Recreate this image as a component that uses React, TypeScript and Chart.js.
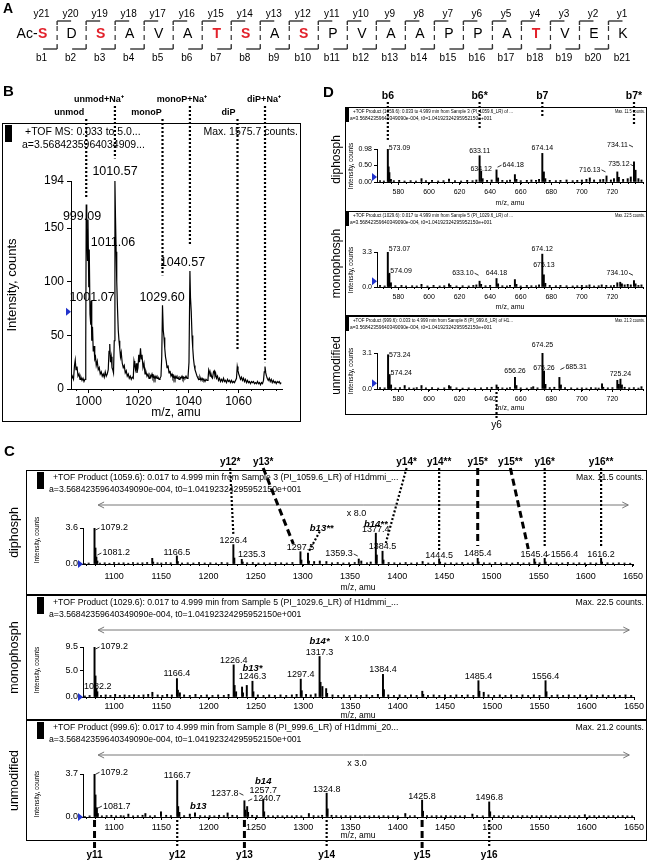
import React, { useEffect, useRef } from "react";
import { Chart, registerables } from "chart.js";

Chart.register(...registerables);

const SANS = "'Liberation Sans', Arial, Helvetica, sans-serif";
const NARROW = "'Liberation Sans Narrow', 'Liberation Sans', Arial, sans-serif";
const RED = "#e2212b";
const BLUE = "#2233cc";

/* ---------------- Panel A : peptide ---------------- */
const SEQ = ["S","D","S","A","V","A","T","S","A","S","P","V","A","A","P","P","A","T","V","E","K"];
const SEQ_PHOS = [1,0,1,0,0,0,1,1,0,1,0,0,0,0,0,0,0,1,0,0,0];
const Y_IONS = ["y21","y20","y19","y18","y17","y16","y15","y14","y13","y12","y11","y10","y9","y8","y7","y6","y5","y4","y3","y2","y1"];
const B_IONS = ["b1","b2","b3","b4","b5","b6","b7","b8","b9","b10","b11","b12","b13","b14","b15","b16","b17","b18","b19","b20","b21"];

/* ---------------- Panel B : MS survey ---------------- */
const B_TRACE: [number, number][] = [
[993.0,8],[993.5,12],[994.0,9],[994.4,22],[994.7,27],[995.0,18],[995.4,21],[995.8,12],[996.2,14],[996.6,9],[997.0,11],[997.4,8],[997.8,10],[998.2,7],[998.6,9],[998.9,40],[999.09,172],[999.3,150],[999.6,120],[999.8,158],[1000.1,95],[1000.3,130],[1000.6,70],[1000.9,60],[1001.07,82],[1001.3,45],[1001.6,58],[1001.9,35],[1002.2,40],[1002.5,28],[1002.8,30],[1003.1,22],[1003.5,26],[1003.9,18],[1004.3,20],[1004.7,14],[1005.1,16],[1005.5,12],[1005.9,14],[1006.3,11],[1006.7,16],[1007.1,12],[1007.5,14],[1007.9,18],[1008.2,35],[1008.5,42],[1008.8,25],[1009.1,30],[1009.4,20],[1009.7,18],[1010.0,15],[1010.3,45],[1010.57,194],[1010.8,160],[1011.06,128],[1011.3,100],[1011.6,75],[1011.9,55],[1012.2,45],[1012.5,38],[1012.8,30],[1013.1,34],[1013.5,24],[1013.9,20],[1014.3,22],[1014.7,15],[1015.1,17],[1015.5,12],[1015.9,14],[1016.3,10],[1016.7,12],[1017.1,9],[1017.5,11],[1017.9,10],[1018.2,26],[1018.5,22],[1018.8,18],[1019.1,24],[1019.4,15],[1019.8,20],[1020.1,32],[1020.4,25],[1020.8,38],[1021.1,28],[1021.4,32],[1021.8,20],[1022.2,24],[1022.6,14],[1023.0,16],[1023.4,12],[1023.8,14],[1024.2,10],[1024.6,13],[1025.0,11],[1025.4,14],[1025.8,10],[1026.2,12],[1026.6,9],[1027.0,12],[1027.4,10],[1027.8,11],[1028.2,9],[1028.6,10],[1029.0,12],[1029.3,30],[1029.6,78],[1029.9,55],[1030.2,48],[1030.5,38],[1030.8,30],[1031.1,26],[1031.4,20],[1031.8,22],[1032.2,15],[1032.6,17],[1033.0,12],[1033.4,14],[1033.8,10],[1034.2,12],[1034.6,9],[1035.0,12],[1035.4,10],[1035.8,11],[1036.2,9],[1036.6,11],[1037.0,10],[1037.4,12],[1037.8,9],[1038.2,11],[1038.6,10],[1039.0,12],[1039.4,10],[1039.8,11],[1040.2,25],[1040.57,110],[1040.8,85],[1041.1,72],[1041.4,50],[1041.7,38],[1042.0,28],[1042.3,22],[1042.6,18],[1043.0,15],[1043.4,12],[1043.8,10],[1044.2,9],[1044.6,11],[1045.0,8],[1045.4,10],[1045.8,8],[1046.2,9],[1046.6,7],[1047.0,9],[1047.4,8],[1047.8,9],[1048.1,18],[1048.4,16],[1048.7,12],[1049.0,14],[1049.3,11],[1049.6,10],[1050.0,16],[1050.3,17],[1050.6,12],[1050.9,14],[1051.2,10],[1051.6,12],[1052.0,8],[1052.4,10],[1052.8,7],[1053.2,9],[1053.6,7],[1054.0,10],[1054.4,7],[1054.8,8],[1055.2,6],[1055.6,9],[1056.0,7],[1056.4,8],[1056.8,6],[1057.2,8],[1057.6,6],[1058.0,7],[1058.4,6],[1058.8,8],[1059.2,10],[1059.5,21],[1059.8,17],[1060.1,14],[1060.4,12],[1060.8,9],[1061.2,11],[1061.6,8],[1062.0,10],[1062.4,7],[1062.8,9],[1063.2,6],[1063.6,8],[1064.0,6],[1064.4,7],[1064.8,5],[1065.2,7],[1065.6,6],[1066.0,7],[1066.4,5],[1066.8,6],[1067.2,5],[1067.6,7],[1068.0,5],[1068.4,6],[1068.8,4],[1069.2,6],[1069.6,5],[1070.0,8],[1070.3,16],[1070.6,21],[1070.9,15],[1071.2,12],[1071.5,10],[1071.9,8],[1072.3,10],[1072.7,7],[1073.1,9],[1073.5,6],[1073.9,8],[1074.3,6],[1074.7,7],[1075.1,5],[1075.5,7],[1075.9,6],[1076.3,7],[1076.7,5],[1077.1,6]
];
const B_XMIN = 993;
const B_XMAX = 1077.4;
const B_XTICKS = [1000, 1020, 1040, 1060];
const B_XMINOR = 5;
const B_YTICKS = [0, 50, 100, 150, 194];
const B_YLABELS = ["0", "50", "100", "150", "194"];
const B_PEAK_LABELS: [string, number, number][] = [
  ["1010.57", 1010.6, 203], ["999.09", 997.4, 161], ["1011.06", 1009.8, 137],
  ["1040.57", 1037.6, 118], ["1001.07", 1001.4, 85], ["1029.60", 1029.4, 85],
];
const B_ION_TEXT = ["unmod", "unmod+Na\u207A", "monoP", "monoP+Na\u207A", "diP", "diP+Na\u207A"];
const B_ION_MZ = [999.09, 1010.57, 1029.6, 1040.57, 1059.6, 1070.6];
const B_ION_END = [178, 215, 106, 134, 36, 25];
const B_ION_ROW = [1, 0, 1, 0, 1, 0];
const B_ION_DX = [-17, -16, -16, -8, -9, -1];

/* ---------------- Panel D : low-mass MS/MS ---------------- */
const D_XMIN = 566;
const D_XMAX = 740;
const D_XTICKS = [580, 600, 620, 640, 660, 680, 700, 720];
const D_XMINOR = 5;
const D1_PEAKS: [number, number][] = [
[568,0.04],[570.5,0.03],[573.09,0.98],[573.6,0.45],[574.1,0.28],[575.1,0.08],[577,0.04],[580.5,0.05],[584,0.03],[588,0.04],[591.5,0.03],[595.1,0.1],[598,0.04],[602,0.05],[606,0.03],[609.5,0.04],[613.1,0.09],[617,0.04],[621,0.03],[625,0.05],[628.5,0.04],[631,0.06],[633.11,0.78],[634.12,0.32],[635.1,0.1],[638,0.05],[641,0.06],[644.18,0.36],[645.2,0.12],[648,0.05],[651,0.04],[653,0.06],[656.2,0.22],[657.2,0.08],[660,0.04],[664,0.05],[667,0.06],[670,0.05],[672,0.08],[674.14,0.85],[675.15,0.3],[676.1,0.1],[679,0.05],[683,0.04],[686,0.05],[690,0.06],[694,0.04],[697,0.05],[700,0.06],[703,0.08],[705.2,0.12],[708,0.06],[712,0.07],[714,0.08],[716.13,0.18],[719,0.06],[721,0.1],[723.2,0.3],[724.2,0.14],[727,0.08],[730,0.1],[732,0.15],[734.11,0.6],[735.12,0.35],[737,0.1],[739,0.06]
];
const D1_LABELS: [string, number, number, string][] = [
  ["573.09", 573.09, 1.0, "R"], ["633.11", 633.11, 0.93, "c"], ["634.12", 634.12, 0.38, "c"],
  ["644.18", 644.18, 0.5, "r"], ["674.14", 674.14, 1.0, "c"], ["716.13", 716.13, 0.36, "L"],
  ["734.11", 734.11, 1.1, "L"], ["735.12", 735.12, 0.52, "L"],
];
const D1_YTICKS = [0, 0.5, 0.98];
const D1_YLABELS = ["0.00", "0.50", "0.98"];
const D2_PEAKS: [number, number][] = [
[568,0.15],[571,0.1],[573.07,3.3],[573.6,1.2],[574.09,1.3],[575.1,0.4],[578,0.12],[582,0.15],[585,0.1],[589,0.12],[592,0.1],[595.1,0.25],[599,0.1],[603,0.15],[607,0.1],[610,0.12],[613.1,0.3],[614,0.15],[618,0.1],[622,0.12],[626,0.1],[629,0.15],[631,0.2],[633.1,0.55],[634.1,0.25],[637,0.12],[640,0.15],[644.18,0.8],[645.2,0.3],[648,0.12],[651,0.1],[653,0.15],[656.2,0.7],[657.2,0.25],[660,0.1],[664,0.15],[667,0.12],[670,0.1],[672,0.2],[674.12,3.1],[675.13,1.15],[676.1,0.35],[679,0.15],[683,0.12],[686,0.15],[690,0.12],[694,0.1],[697,0.12],[700,0.15],[703,0.12],[705,0.2],[708,0.1],[711,0.12],[713,0.2],[716,0.15],[719,0.12],[721,0.15],[723.2,0.4],[725.1,0.45],[726.2,0.3],[728,0.2],[730,0.25],[732,0.2],[734.1,0.6],[735.1,0.3],[737,0.15],[739,0.2]
];
const D2_LABELS: [string, number, number, string][] = [
  ["573.07", 573.07, 3.55, "R"], ["574.09", 574.09, 1.5, "R"], ["633.10", 633.1, 1.3, "L"],
  ["644.18", 644.18, 1.35, "c"], ["674.12", 674.12, 3.55, "c"], ["675.13", 675.13, 2.05, "c"],
  ["734.10", 734.1, 1.3, "L"],
];
const D2_YTICKS = [0, 3.3];
const D2_YLABELS = ["0.0", "3.3"];
const D3_PEAKS: [number, number][] = [
[568,0.12],[571,0.1],[573.24,2.95],[573.7,1.1],[574.24,1.25],[575.2,0.35],[578,0.1],[581,0.12],[584.1,0.3],[587,0.1],[590,0.08],[592,0.12],[595.1,0.3],[598,0.1],[602,0.12],[606,0.08],[610,0.1],[613.1,0.3],[614.1,0.2],[618,0.1],[622,0.08],[626,0.1],[630,0.08],[634,0.1],[638,0.12],[641,0.15],[644.2,0.35],[645.2,0.15],[648,0.1],[651,0.08],[653,0.12],[656.26,1.0],[657.2,0.3],[660,0.1],[664,0.08],[667,0.12],[668.2,0.2],[671,0.1],[674.25,3.1],[675.26,1.55],[676.2,0.4],[679,0.12],[682,0.15],[685.31,1.0],[686.3,0.35],[689,0.12],[693,0.1],[697,0.08],[700,0.1],[703,0.08],[706,0.12],[709,0.1],[711,0.08],[713.2,0.45],[714,0.15],[717,0.1],[720,0.12],[723.2,0.75],[724.2,0.4],[725.24,0.85],[726.2,0.35],[728,0.15],[731,0.1],[734,0.12],[737,0.08],[739,0.2]
];
const D3_LABELS: [string, number, number, string][] = [
  ["573.24", 573.24, 2.9, "R"], ["574.24", 574.24, 1.4, "R"], ["656.26", 656.26, 1.55, "c"],
  ["674.25", 674.25, 3.75, "c"], ["675.26", 675.26, 1.8, "c"], ["685.31", 685.31, 1.85, "r"],
  ["725.24", 725.24, 1.25, "c"],
];
const D3_YTICKS = [0, 3.1];
const D3_YLABELS = ["0.0", "3.1"];
const D_ION_TEXT = ["b6", "b6*", "b7", "b7*"];
const D_ION_MZ = [573.09, 633.11, 674.14, 734.11];
const D_ION_END = [1.25, 1.6, 1.9, 1.7];

/* ---------------- Panel C : high-mass MS/MS ---------------- */
const C_XMIN = 1067;
const C_XMAX = 1650;
const C_XTICKS = [1100, 1150, 1200, 1250, 1300, 1350, 1400, 1450, 1500, 1550, 1600, 1650];
const C_XMINOR = 10;
const C1_PEAKS: [number, number][] = [
[1069,0.05],[1073,0.1],[1079.2,3.6],[1080.2,1.6],[1081.2,0.7],[1082.2,0.3],[1085,0.1],[1090,0.12],[1095,0.08],[1100,0.15],[1105,0.1],[1110,0.12],[1115,0.08],[1120,0.15],[1125,0.1],[1130,0.12],[1135,0.15],[1140.4,0.57],[1141.4,0.2],[1146,0.12],[1150,0.1],[1155,0.15],[1160,0.12],[1166.5,0.8],[1167.5,0.25],[1172,0.1],[1178,0.12],[1184,0.1],[1190,0.15],[1196,0.1],[1202,0.12],[1208,0.1],[1214,0.15],[1220,0.12],[1226.4,1.94],[1227.4,0.6],[1235.3,0.47],[1236.3,0.2],[1241,0.12],[1247,0.15],[1253,0.1],[1259,0.12],[1265,0.1],[1271,0.15],[1277,0.12],[1283,0.1],[1289,0.15],[1297.5,1.23],[1298.5,0.4],[1305.5,1.1],[1306.5,0.3],[1312,0.25],[1318,0.3],[1325,0.25],[1331,0.12],[1337,0.15],[1343,0.1],[1349,0.12],[1355,0.15],[1359.3,0.5],[1362,0.3],[1368,0.12],[1372,0.2],[1377.4,3.08],[1378.4,0.9],[1384.5,1.28],[1385.5,0.4],[1391,0.15],[1397,0.12],[1403,0.1],[1409,0.15],[1415,0.1],[1421,0.12],[1427,0.25],[1433,0.1],[1439,0.12],[1444.5,0.52],[1445.5,0.2],[1451,0.1],[1457,0.12],[1463,0.1],[1469,0.15],[1475,0.1],[1480,0.12],[1485.4,0.57],[1486.4,0.2],[1492,0.12],[1498,0.1],[1504,0.15],[1510,0.1],[1516,0.12],[1522,0.1],[1528,0.15],[1534,0.1],[1540,0.12],[1545.4,0.52],[1546.4,0.2],[1551,0.12],[1556.4,0.57],[1557.4,0.2],[1563,0.1],[1569,0.12],[1575,0.1],[1581,0.15],[1587,0.1],[1593,0.12],[1599,0.1],[1605,0.12],[1611,0.1],[1616.2,0.57],[1617.2,0.2],[1623,0.12],[1629,0.1],[1635,0.12],[1641,0.1],[1647,0.08]
];
const C1_LABELS: [string, number, number, string][] = [
  ["1079.2", 1079.2, 3.6, "r"], ["1081.2", 1081.2, 1.1, "r"], ["1166.5", 1166.5, 1.15, "c"],
  ["1226.4", 1226.4, 2.35, "c"], ["1235.3", 1246, 0.9, "c"], ["1297.5", 1297.5, 1.65, "c"],
  ["1359.3", 1359.3, 1.0, "L"], ["1377.4", 1377.4, 3.4, "c"], ["1384.5", 1384.5, 1.7, "c"],
  ["1444.5", 1444.5, 0.85, "c"], ["1485.4", 1485.4, 1.0, "c"], ["1545.4", 1545.4, 0.95, "c"],
  ["1556.4", 1556.4, 0.95, "r"], ["1616.2", 1616.2, 0.95, "c"],
];
const C1_ITALIC: [string, number, number][] = [["b13**", 1320, 3.6], ["b14**", 1377.4, 4.0]];
const C1_YTICKS = [0, 3.6];
const C1_YLABELS = ["0.0", "3.6"];
const C2_PEAKS: [number, number][] = [
[1069,0.2],[1074,0.3],[1079.2,9.5],[1080.2,4.0],[1081.2,1.6],[1082.2,1.0],[1086,0.3],[1091,0.4],[1096,0.3],[1101,0.5],[1106,0.3],[1111,0.4],[1116,0.3],[1121,0.4],[1126,0.3],[1131,0.4],[1136,0.5],[1140.4,0.9],[1146,0.4],[1151,0.3],[1156,0.5],[1161,0.4],[1166.4,3.5],[1167.4,1.3],[1169.5,0.8],[1174,0.4],[1180,0.3],[1186,0.5],[1192,0.3],[1198,0.4],[1204,0.3],[1210,0.4],[1216,0.3],[1221,0.5],[1226.4,6.1],[1227.4,2.2],[1229,1.0],[1235.3,1.9],[1236.3,0.8],[1240.3,2.2],[1246.3,3.0],[1247.3,1.0],[1252,0.4],[1258,0.3],[1264,0.4],[1270,0.3],[1276,0.4],[1282,0.3],[1288,0.4],[1293,0.5],[1297.4,3.4],[1298.4,1.2],[1303,0.5],[1308,0.4],[1313,0.6],[1317.3,7.7],[1318.3,2.8],[1320.3,2.0],[1324.3,1.6],[1325.3,0.7],[1331,0.4],[1337,0.3],[1343,0.4],[1349,0.3],[1355,0.4],[1361,0.3],[1367,0.4],[1373,0.3],[1379,0.5],[1384.4,4.3],[1385.4,1.4],[1390,0.4],[1396,0.3],[1402,0.4],[1408,0.3],[1414,0.4],[1420,0.3],[1426,1.1],[1427,0.5],[1432,0.3],[1438,0.4],[1444,0.3],[1450,0.4],[1456,0.3],[1462,0.4],[1468,0.3],[1474,0.4],[1480,0.3],[1485.4,3.1],[1486.4,1.1],[1491,0.9],[1496,0.4],[1502,0.3],[1508,0.4],[1514,0.3],[1520,0.4],[1526,0.3],[1532,0.4],[1538,0.3],[1544,0.4],[1550,0.3],[1556.4,3.1],[1557.4,1.0],[1563,0.3],[1569,0.4],[1575,0.3],[1581,0.4],[1587,0.3],[1593,0.4],[1599,0.3],[1605,0.4],[1611,0.3],[1617,0.4],[1623,0.3],[1629,0.4],[1635,0.3],[1641,0.4],[1647,0.3]
];
const C2_LABELS: [string, number, number, string][] = [
  ["1079.2", 1079.2, 9.5, "r"], ["1082.2", 1082.5, 1.9, "c"], ["1166.4", 1166.4, 4.4, "c"],
  ["1226.4", 1226.4, 6.9, "c"], ["1246.3", 1246.3, 3.85, "c"], ["1297.4", 1297.4, 4.35, "c"],
  ["1317.3", 1317.3, 8.5, "c"], ["1384.4", 1384.4, 5.2, "c"], ["1485.4", 1485.4, 3.9, "c"],
  ["1556.4", 1556.4, 3.9, "c"],
];
const C2_ITALIC: [string, number, number][] = [["b13*", 1246.3, 5.5], ["b14*", 1317.3, 10.6]];
const C2_YTICKS = [0, 5, 9.5];
const C2_YLABELS = ["0.0", "5.0", "9.5"];
const C3_PEAKS: [number, number][] = [
[1069,0.05],[1074,0.1],[1079.2,3.7],[1080.2,1.9],[1081.7,0.8],[1082.7,0.3],[1087,0.1],[1092,0.12],[1097,0.15],[1102,0.1],[1107,0.12],[1110,0.1],[1115,0.25],[1120,0.1],[1125,0.12],[1130,0.15],[1133,0.3],[1138,0.1],[1143,0.12],[1149.5,0.45],[1155,0.15],[1160,0.12],[1166.7,3.15],[1167.7,0.9],[1169,0.4],[1174,0.12],[1180,0.25],[1185.5,0.35],[1191,0.12],[1196,0.1],[1201,0.12],[1206,0.1],[1211,0.15],[1216,0.12],[1220,0.35],[1225,0.15],[1230,0.12],[1237.8,1.4],[1238.8,0.6],[1240.7,0.9],[1241.7,0.4],[1246,0.15],[1251,0.12],[1257.7,1.55],[1258.7,0.45],[1263,0.12],[1268,0.1],[1273,0.12],[1278,0.1],[1283,0.12],[1288,0.1],[1293,0.12],[1298,0.1],[1306,0.3],[1311,0.12],[1316,0.1],[1320,0.15],[1324.8,2.05],[1325.8,0.7],[1330,0.15],[1335,0.12],[1340,0.1],[1345,0.12],[1350,0.1],[1355,0.12],[1360,0.1],[1365,0.12],[1370,0.1],[1375,0.12],[1380,0.1],[1385,0.12],[1390,0.1],[1395,0.12],[1400,0.1],[1408,0.3],[1413,0.1],[1418,0.12],[1425.8,1.45],[1426.8,0.5],[1431,0.12],[1436,0.1],[1441,0.12],[1446,0.1],[1451,0.12],[1456,0.1],[1461,0.12],[1466,0.1],[1471,0.12],[1479,0.25],[1484,0.12],[1490,0.1],[1496.8,1.3],[1497.8,0.45],[1502,0.12],[1507,0.1],[1512,0.12],[1517,0.1],[1522,0.12],[1527,0.1],[1532,0.12],[1537,0.1],[1542,0.12],[1547,0.1],[1552,0.12],[1557,0.1],[1562,0.12],[1567,0.1],[1572,0.12],[1577,0.1],[1582,0.12],[1587,0.1],[1592,0.12],[1598,0.2],[1603,0.1],[1608,0.12],[1613,0.1],[1618,0.12],[1623,0.1],[1628,0.12],[1633,0.1],[1638,0.12],[1643,0.1],[1648,0.1]
];
const C3_LABELS: [string, number, number, string][] = [
  ["1079.2", 1079.2, 3.85, "r"], ["1081.7", 1081.7, 0.94, "r"], ["1166.7", 1166.7, 3.6, "c"],
  ["1237.8", 1237.8, 2.05, "L"], ["1240.7", 1240.7, 1.56, "r"], ["1257.7", 1257.7, 2.29, "c"],
  ["1324.8", 1324.8, 2.4, "c"], ["1425.8", 1425.8, 1.8, "c"], ["1496.8", 1496.8, 1.7, "c"],
];
const C3_ITALIC: [string, number, number][] = [["b13", 1189, 0.94], ["b14", 1257.7, 3.1]];
const C3_YTICKS = [0, 3.7];
const C3_YLABELS = ["0.0", "3.7"];
const C_ION_TEXT = ["y12*", "y13*", "y14*", "y14**", "y15*", "y15**", "y16*", "y16**"];
const C_ION_TOP = [1223, 1258, 1410, 1444.5, 1485.4, 1520, 1556.4, 1616.2];
const C_ION_END_MZ = [1226.4, 1290, 1388, 1444.5, 1485.4, 1539, 1556.4, 1616.2];
const C_ION_END_V = [2.9, 2.0, 2.1, 1.35, 1.8, 1.5, 1.6, 1.7];
const C_ION_DASHED = [0, 1, 0, 0, 1, 1, 0, 0];
const C_BOT_TEXT = ["y11", "y12", "y13", "y14", "y15", "y16"];
const C_BOT_MZ = [1079.2, 1166.7, 1237.8, 1324.8, 1425.8, 1496.8];
const C_BOT_DASHED = [1, 0, 1, 0, 1, 0];

const CAL = "a=3.56842359640349090e-004, t0=1.04192324295952150e+001";

/* ---------------- drawing helpers ---------------- */
type Ctx = CanvasRenderingContext2D;
type Fn = (v: number) => number;
type Frame = { left: number; top: number; width: number; height: number };
type Area = { left: number; top: number; right: number; bottom: number };

function tx(ctx: Ctx, s: string, x: number, y: number, font: string, align: CanvasTextAlign = "left", color = "#000", maxW?: number) {
  ctx.font = font;
  ctx.fillStyle = color;
  ctx.textAlign = align;
  ctx.textBaseline = "middle";
  if (maxW) ctx.fillText(s, x, y, maxW);
  else ctx.fillText(s, x, y);
}
function rot(ctx: Ctx, s: string, x: number, y: number, font: string) {
  ctx.save();
  ctx.translate(x, y);
  ctx.rotate(-Math.PI / 2);
  tx(ctx, s, 0, 0, font, "center");
  ctx.restore();
}
function ln(ctx: Ctx, x1: number, y1: number, x2: number, y2: number, w = 1, dash: number[] = [], color = "#000") {
  ctx.save();
  ctx.strokeStyle = color;
  ctx.lineWidth = w;
  ctx.setLineDash(dash);
  ctx.beginPath();
  ctx.moveTo(x1, y1);
  ctx.lineTo(x2, y2);
  ctx.stroke();
  ctx.restore();
}
function ionLine(ctx: Ctx, x1: number, y1: number, x2: number, y2: number, dashed: boolean) {
  if (dashed) ln(ctx, x1, y1, x2, y2, 3, [7, 4]);
  else ln(ctx, x1, y1, x2, y2, 2.2, [2, 2]);
}
function peakLabels(ctx: Ctx, X: Fn, Y: Fn, list: [string, number, number, string][], font: string) {
  for (const [t, m, v, k] of list) {
    const x = X(m), y = Y(v);
    if (k === "c") tx(ctx, t, x, y, font, "center");
    else if (k === "R") tx(ctx, t, x + 1, y, font, "left");
    else if (k === "r") { ln(ctx, x + 1, y + 2, x + 5, y, 0.8); tx(ctx, t, x + 6, y, font, "left"); }
    else { ln(ctx, x - 1, y + 2, x - 5, y, 0.8); tx(ctx, t, x - 6, y, font, "right"); }
  }
}
function italics(ctx: Ctx, X: Fn, Y: Fn, list: [string, number, number][], font: string) {
  for (const [t, m, v] of list) tx(ctx, t, X(m), Y(v), font, "center");
}
function marker(ctx: Ctx, x: number, y: number) {
  ctx.save();
  ctx.fillStyle = BLUE;
  ctx.beginPath();
  ctx.moveTo(x - 5, y - 4);
  ctx.lineTo(x, y);
  ctx.lineTo(x - 5, y + 4);
  ctx.closePath();
  ctx.fill();
  ctx.restore();
}
function arrow(ctx: Ctx, x1: number, x2: number, y: number) {
  const c = "#777";
  ln(ctx, x1, y, x2, y, 1, [], c);
  ln(ctx, x1, y, x1 + 6, y - 3, 1, [], c);
  ln(ctx, x1, y, x1 + 6, y + 3, 1, [], c);
  ln(ctx, x2, y, x2 - 6, y - 3, 1, [], c);
  ln(ctx, x2, y, x2 - 6, y + 3, 1, [], c);
}
// small unlabeled ticks between the labelled ones, placed through the x scale
function minorTicks(ctx: Ctx, X: Fn, bottomPx: number, lo: number, hi: number, step: number) {
  for (let v = Math.ceil(lo / step) * step; v <= hi; v += step) {
    const x = Math.round(X(v)) + 0.5;
    ln(ctx, x, bottomPx, x, bottomPx + 2, 1);
  }
}
interface Chrome {
  box: number[]; bar: number[];
  t1: string; t2: string; tx1: number; tx2: number; ty1: number; ty2: number; tfont: string; tw1?: number; tw2?: number;
  max: string; maxX: number; maxW?: number;
  side: string; sideX: number; sideFont: string;
  ylabX: number; ylabY: number; ylabFont: string;
  xlabX: number; xlabY: number; xlabFont: string;
}
function chrome(ctx: Ctx, o: Chrome) {
  const [x1, y1, x2, y2] = o.box;
  ctx.save();
  ctx.strokeStyle = "#000";
  ctx.lineWidth = 1;
  ctx.strokeRect(x1 + 0.5, y1 + 0.5, x2 - x1 - 1, y2 - y1 - 1);
  ctx.fillStyle = "#000";
  ctx.fillRect(o.bar[0], o.bar[1], o.bar[2], o.bar[3]);
  ctx.restore();
  tx(ctx, o.t1, o.tx1, o.ty1, o.tfont, "left", "#000", o.tw1);
  tx(ctx, o.t2, o.tx2, o.ty2, o.tfont, "left", "#000", o.tw2);
  tx(ctx, o.max, o.maxX, o.ty1, o.tfont, "right", "#000", o.maxW);
  if (o.side) rot(ctx, o.side, o.sideX, (y1 + y2) / 2, o.sideFont);
  rot(ctx, "Intensity, counts", o.ylabX, o.ylabY, o.ylabFont);
  tx(ctx, "m/z, amu", o.xlabX, o.xlabY, o.xlabFont, "center");
}

/* ---------------- chart builders ---------------- */
interface Spec {
  frame: Frame; area: Area; kind: "line" | "bar"; data: [number, number][];
  xMin: number; xMax: number; xTicks: number[]; xMinor: number;
  yMax: number; yTicks: number[]; yLabels: string[];
  tickSize: number; tickFamily: string; xPad: number; yPad: number; tickLen: number; barW?: number;
  deco: (ctx: Ctx, X: Fn, Y: Fn) => void;
}

function mkSpectrum(canvas: HTMLCanvasElement, s: Spec): Chart {
  const YW = 40, XH = 26;
  const f = s.frame, a = s.area;
  const padding = {
    left: a.left - f.left - YW,
    right: f.left + f.width - a.right,
    top: a.top - f.top,
    bottom: f.top + f.height - a.bottom - XH,
  };
  const points = s.data.map(([x, y]) => ({ x, y }));
  const deco = {
    id: "deco",
    afterDraw(chart: any) {
      const ctx = chart.ctx as Ctx;
      const xs = chart.scales.x, ys = chart.scales.y;
      const X = (v: number) => xs.getPixelForValue(v) + f.left;
      const Y = (v: number) => ys.getPixelForValue(v) + f.top;
      ctx.save();
      ctx.translate(-f.left, -f.top);
      minorTicks(ctx, X, Y(0), s.xMin, s.xMax, s.xMinor);
      s.deco(ctx, X, Y);
      ctx.restore();
    },
  };
  const grid = () => ({ display: true, drawOnChartArea: false, drawTicks: true, tickLength: s.tickLen, color: "#000", lineWidth: 1, offset: false });
  const border = () => ({ display: true, color: "#000", width: 1 });
  const font = { family: s.tickFamily, size: s.tickSize };
  return new Chart(canvas, {
    type: s.kind,
    data: {
      datasets: [{
        data: points, borderColor: "#000", backgroundColor: "#000",
        borderWidth: s.kind === "line" ? 1.2 : 0, pointRadius: 0, tension: 0,
        barThickness: s.barW,
      }],
    },
    options: {
      responsive: false, animation: false, devicePixelRatio: 1, events: [],
      layout: { padding },
      plugins: { legend: { display: false }, tooltip: { enabled: false } },
      scales: {
        x: {
          type: "linear", min: s.xMin, max: s.xMax, offset: false, grid: grid(), border: border(),
          afterFit: (sc: any) => { sc.height = XH; },
          afterBuildTicks: (sc: any) => { sc.ticks = s.xTicks.map((v) => ({ value: v })); },
          ticks: { autoSkip: false, maxRotation: 0, minRotation: 0, color: "#000", padding: s.xPad, font, callback: (v: any) => String(v) },
        },
        y: {
          type: "linear", min: 0, max: s.yMax, grid: grid(), border: border(),
          afterFit: (sc: any) => { sc.width = YW; },
          afterBuildTicks: (sc: any) => { sc.ticks = s.yTicks.map((v) => ({ value: v })); },
          ticks: { autoSkip: false, color: "#000", padding: s.yPad, font, callback: (_v: any, i: number) => s.yLabels[i] },
        },
      },
    },
    plugins: [deco],
  } as any);
}

function mkSequence(canvas: HTMLCanvasElement): Chart {
  const pts = SEQ.map((_, i) => ({ x: i, y: 0 }));
  const plugin = {
    id: "seq",
    afterDraw(chart: any) {
      const ctx = chart.ctx as Ctx;
      const X = (v: number) => chart.scales.x.getPixelForValue(v);
      tx(ctx, "A", 3, 9, `bold 14px ${SANS}`);
      const lc = "#333";
      for (let k = 0; k < SEQ.length - 1; k++) {
        const sx = (X(k) + X(k + 1)) / 2;
        ln(ctx, sx, 21, sx + 14, 21, 1.4, [], lc);
        ln(ctx, sx, 21, sx, 25, 1.4, [], lc);
        ln(ctx, sx, 26, sx, 45, 1.2, [5, 4], lc);
        ln(ctx, sx - 14, 49, sx, 49, 1.4, [], lc);
        ln(ctx, sx, 45, sx, 49, 1.4, [], lc);
      }
      tx(ctx, "Ac-", X(0) - 5, 34, `14px ${SANS}`, "right");
      SEQ.forEach((r, i) => {
        const red = SEQ_PHOS[i] === 1;
        tx(ctx, r, X(i), 34, red ? `bold 14px ${SANS}` : `14px ${SANS}`, "center", red ? RED : "#000");
        tx(ctx, Y_IONS[i], X(i) - 1, 14, `10px ${SANS}`, "center");
        tx(ctx, B_IONS[i], X(i) - 1, 58, `10px ${SANS}`, "center");
      });
    },
  };
  return new Chart(canvas, {
    type: "scatter",
    data: { datasets: [{ data: pts, pointRadius: 0 }] },
    options: {
      responsive: false, animation: false, devicePixelRatio: 1, events: [],
      layout: { padding: 0 },
      plugins: { legend: { display: false }, tooltip: { enabled: false } },
      scales: {
        x: { type: "linear", display: false, min: -1.468, max: 20.827 },
        y: { display: false, min: -1, max: 1 },
      },
    },
    plugins: [plugin],
  } as any);
}

/* ---------------- panel specs ---------------- */
const F_A: Frame = { left: 0, top: 0, width: 647, height: 70 };
const F_B: Frame = { left: 0, top: 84, width: 310, height: 342 };
const F_D1: Frame = { left: 318, top: 84, width: 329, height: 130 };
const F_D2: Frame = { left: 318, top: 211, width: 329, height: 105 };
const F_D3: Frame = { left: 318, top: 316, width: 329, height: 115 };
const F_C1: Frame = { left: 0, top: 440, width: 647, height: 158 };
const F_C2: Frame = { left: 0, top: 595, width: 647, height: 130 };
const F_C3: Frame = { left: 0, top: 719, width: 647, height: 142 };

const specB: Spec = {
  frame: F_B, area: { left: 71, top: 181, right: 282, bottom: 389 }, kind: "line", data: B_TRACE,
  xMin: B_XMIN, xMax: B_XMAX, xTicks: B_XTICKS, xMinor: B_XMINOR, yMax: 194, yTicks: B_YTICKS, yLabels: B_YLABELS,
  tickSize: 12, tickFamily: SANS, xPad: 1, yPad: 3, tickLen: 4,
  deco: (ctx, X, Y) => {
    tx(ctx, "B", 3, 92, `bold 15px ${SANS}`);
    chrome(ctx, {
      box: [2, 123, 301, 422], bar: [5, 125, 7, 17],
      t1: "+TOF MS: 0.033 to 5.0...", t2: "a=3.5684235964034909...", tx1: 25, tx2: 22, ty1: 132, ty2: 145, tfont: `10.5px ${SANS}`,
      max: "Max. 1575.7 counts.", maxX: 298,
      side: "", sideX: 0, sideFont: "",
      ylabX: 12, ylabY: 285, ylabFont: `13px ${SANS}`,
      xlabX: 176, xlabY: 413, xlabFont: `12px ${SANS}`,
    });
    marker(ctx, X(B_XMIN), Y(72));
    B_PEAK_LABELS.forEach(([t, m, v]) => tx(ctx, t, X(m), Y(v), `12.5px ${SANS}`, "center"));
    B_ION_TEXT.forEach((t, i) => {
      const x = X(B_ION_MZ[i]);
      const ly = B_ION_ROW[i] ? 113 : 100;
      tx(ctx, t, x + B_ION_DX[i], ly, `bold 9px ${SANS}`, "center");
      ionLine(ctx, x, ly + 6, x, Y(B_ION_END[i]), false);
    });
  },
};

function dChrome(ctx: Ctx, top: number, bottom: number, t1: string, max: string, side: string, ylabY: number, xlabY: number) {
  chrome(ctx, {
    box: [345, top, 647, bottom], bar: [345, top + 1, 4, 14],
    t1, t2: CAL, tx1: 353, tx2: 350, ty1: top + 4, ty2: top + 11, tfont: `6px ${NARROW}`, tw1: 160, tw2: 142,
    max, maxX: 645, maxW: 30,
    side, sideX: 337, sideFont: `12px ${SANS}`,
    ylabX: 351, ylabY, ylabFont: `6.5px ${SANS}`,
    xlabX: 510, xlabY, xlabFont: `7px ${SANS}`,
  });
}
const D_BASE = { kind: "bar" as const, xMin: D_XMIN, xMax: D_XMAX, xTicks: D_XTICKS, xMinor: D_XMINOR, tickSize: 7, tickFamily: NARROW, xPad: 3, yPad: 2, tickLen: 3, barW: 1.3 };
const specD1: Spec = {
  ...D_BASE, frame: F_D1, area: { left: 377, top: 149, right: 643, bottom: 182 }, data: D1_PEAKS,
  yMax: 0.98, yTicks: D1_YTICKS, yLabels: D1_YLABELS,
  deco: (ctx, X, Y) => {
    tx(ctx, "D", 323, 93, `bold 15px ${SANS}`);
    dChrome(ctx, 107, 212, "+TOF Product (1059.6): 0.033 to 4.999 min from Sample 3 (PI_1059.6_LR) of ...", "Max. 11.5 counts.", "diphosph", 166, 203);
    marker(ctx, X(D_XMIN), Y(0.15));
    peakLabels(ctx, X, Y, D1_LABELS, `7px ${NARROW}`);
    D_ION_TEXT.forEach((t, i) => {
      const x = X(D_ION_MZ[i]);
      tx(ctx, t, x, 96, `bold 10.5px ${SANS}`, "center");
      ionLine(ctx, x, 102, x, Y(D_ION_END[i]), false);
    });
  },
};
const specD2: Spec = {
  ...D_BASE, frame: F_D2, area: { left: 377, top: 252, right: 643, bottom: 287 }, data: D2_PEAKS,
  yMax: 3.3, yTicks: D2_YTICKS, yLabels: D2_YLABELS,
  deco: (ctx, X, Y) => {
    dChrome(ctx, 211, 316, "+TOF Product (1029.6): 0.017 to 4.999 min from Sample 5 (PI_1029.6_LR) of ...", "Max. 22.5 counts.", "monophosph", 270, 307);
    marker(ctx, X(D_XMIN), Y(0.55));
    peakLabels(ctx, X, Y, D2_LABELS, `7px ${NARROW}`);
  },
};
const specD3: Spec = {
  ...D_BASE, frame: F_D3, area: { left: 377, top: 353, right: 643, bottom: 389 }, data: D3_PEAKS,
  yMax: 3.1, yTicks: D3_YTICKS, yLabels: D3_YLABELS,
  deco: (ctx, X, Y) => {
    dChrome(ctx, 316, 415, "+TOF Product (999.6): 0.033 to 4.999 min from Sample 8 (PI_999.6_LR) of H1...", "Max. 21.3 counts.", "unmodified", 371, 408);
    marker(ctx, X(D_XMIN), Y(0.5));
    peakLabels(ctx, X, Y, D3_LABELS, `7px ${NARROW}`);
    const x = X(644.18);
    ionLine(ctx, x, 392, x, 418, false);
    tx(ctx, "y6", x, 425, `10px ${SANS}`, "center");
  },
};

function cChrome(ctx: Ctx, X: Fn, top: number, bottom: number, t1: string, max: string, side: string, ylabY: number, xlabY: number, zoom: string) {
  chrome(ctx, {
    box: [26, top, 647, bottom], bar: [37, top + 2, 7, 17],
    t1, t2: CAL, tx1: 53, tx2: 49, ty1: top + 8, ty2: top + 20, tfont: `8.7px ${SANS}`,
    max, maxX: 644,
    side, sideX: 15, sideFont: `12.5px ${SANS}`,
    ylabX: 37, ylabY, ylabFont: `6.5px ${SANS}`,
    xlabX: 358, xlabY, xlabFont: `8.5px ${SANS}`,
  });
  arrow(ctx, X(1083), X(1645), top + 35);
  tx(ctx, zoom, X(1357), top + 44, `9px ${SANS}`, "center");
}
const C_BASE = { kind: "bar" as const, xMin: C_XMIN, xMax: C_XMAX, xTicks: C_XTICKS, xMinor: C_XMINOR, tickSize: 9, tickFamily: SANS, yPad: 2, tickLen: 3, barW: 1.3 };
const specC1: Spec = {
  ...C_BASE, xPad: 4, frame: F_C1, area: { left: 83, top: 528, right: 634, bottom: 564 }, data: C1_PEAKS,
  yMax: 3.6, yTicks: C1_YTICKS, yLabels: C1_YLABELS,
  deco: (ctx, X, Y) => {
    tx(ctx, "C", 4, 452, `bold 15px ${SANS}`);
    cChrome(ctx, X, 470, 595, "+TOF Product (1059.6): 0.017 to 4.999 min from Sample 3 (PI_1059.6_LR) of H1dmmi_...", "Max. 11.5 counts.", "diphosph", 540, 588, "x 8.0");
    marker(ctx, X(C_XMIN), Y(0));
    peakLabels(ctx, X, Y, C1_LABELS, `9px ${SANS}`);
    italics(ctx, X, Y, C1_ITALIC, `italic bold 9.5px ${SANS}`);
    ionLine(ctx, X(1318), Y(3.25), X(1306), Y(1.2), false);
    C_ION_TEXT.forEach((t, i) => {
      const xt = X(C_ION_TOP[i]);
      tx(ctx, t, xt, 462, `bold 10px ${SANS}`, "center");
      ionLine(ctx, xt, 468, X(C_ION_END_MZ[i]), Y(C_ION_END_V[i]), C_ION_DASHED[i] === 1);
    });
  },
};
const specC2: Spec = {
  ...C_BASE, xPad: 1, frame: F_C2, area: { left: 83, top: 647, right: 634, bottom: 697 }, data: C2_PEAKS,
  yMax: 9.5, yTicks: C2_YTICKS, yLabels: C2_YLABELS,
  deco: (ctx, X, Y) => {
    cChrome(ctx, X, 595, 720, "+TOF Product (1029.6): 0.017 to 4.999 min from Sample 5 (PI_1029.6_LR) of H1dmmi_...", "Max. 22.5 counts.", "monophosph", 670, 716, "x 10.0");
    marker(ctx, X(C_XMIN), Y(0));
    peakLabels(ctx, X, Y, C2_LABELS, `9px ${SANS}`);
    italics(ctx, X, Y, C2_ITALIC, `italic bold 9.5px ${SANS}`);
  },
};
const specC3: Spec = {
  ...C_BASE, xPad: 2, frame: F_C3, area: { left: 83, top: 774, right: 634, bottom: 817 }, data: C3_PEAKS,
  yMax: 3.7, yTicks: C3_YTICKS, yLabels: C3_YLABELS,
  deco: (ctx, X, Y) => {
    cChrome(ctx, X, 720, 841, "+TOF Product (999.6): 0.017 to 4.999 min from Sample 8 (PI_999.6_LR) of H1dmmi_20...", "Max. 21.2 counts.", "unmodified", 794, 836, "x 3.0");
    marker(ctx, X(C_XMIN), Y(0));
    peakLabels(ctx, X, Y, C3_LABELS, `9px ${SANS}`);
    italics(ctx, X, Y, C3_ITALIC, `italic bold 9.5px ${SANS}`);
    C_BOT_TEXT.forEach((t, i) => {
      const x = X(C_BOT_MZ[i]);
      ionLine(ctx, x, 820, x, 848, C_BOT_DASHED[i] === 1);
      tx(ctx, t, x, 855, `bold 10px ${SANS}`, "center");
    });
  },
};

/* ---------------- React ---------------- */
function ChartCanvas(props: { frame: Frame; make: (c: HTMLCanvasElement) => Chart }) {
  const ref = useRef<HTMLCanvasElement | null>(null);
  useEffect(() => {
    const chart = props.make(ref.current as HTMLCanvasElement);
    return () => chart.destroy();
  }, []);
  const f = props.frame;
  return (
    <canvas
      ref={ref}
      width={f.width}
      height={f.height}
      style={{ position: "absolute", left: f.left, top: f.top, width: f.width, height: f.height }}
    />
  );
}

export default function App() {
  const specs: Spec[] = [specB, specD1, specD2, specD3, specC1, specC2, specC3];
  return (
    <div style={{ position: "fixed", left: 0, top: 0, width: 647, height: 861, background: "#fff", overflow: "hidden" }}>
      <ChartCanvas frame={F_A} make={mkSequence} />
      {specs.map((s, i) => (
        <ChartCanvas key={i} frame={s.frame} make={(c) => mkSpectrum(c, s)} />
      ))}
    </div>
  );
}
